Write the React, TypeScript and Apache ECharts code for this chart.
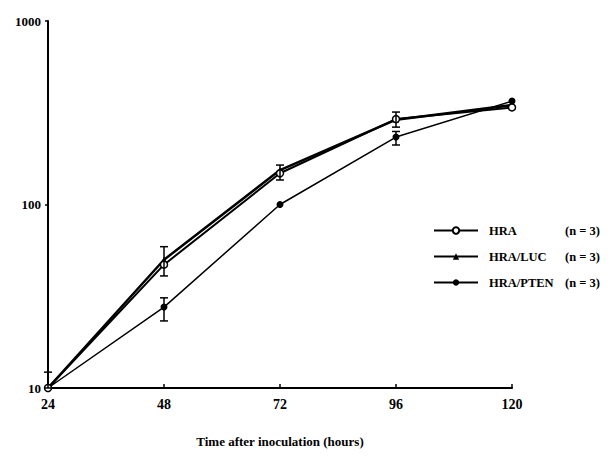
import React, { useEffect, useRef } from "react";
import * as echarts from "echarts";

const hours = [24, 48, 72, 96, 120];
const hraValues = [10, 47, 148, 292, 338];
const lucValues = [10, 50, 154, 290, 348];
const ptenValues = [10, 27.6, 100, 233, 366];
// error bars: [hour, low, high]
const hraErr = [[48, 40.8, 58.9], [72, 136, 164], [96, 264, 319]];
const lucErr = [[24, 10, 12.2]];
const ptenErr = [[48, 23.2, 31], [96, 211, 250]];
const yTicks = [10, 100, 1000];
const legendNote = "(n = 3)";

const FONT = "'Liberation Serif', 'DejaVu Serif', serif";

function errSeries(data: number[][], id: string) {
  return {
    type: "custom",
    name: id,
    silent: true,
    z: 5,
    data,
    renderItem: (_p: any, api: any) => {
      const x = api.value(0);
      const lo = api.coord([x, api.value(1)]);
      const hi = api.coord([x, api.value(2)]);
      const w = 4;
      return {
        type: "group",
        children: [
          { type: "line", shape: { x1: lo[0], y1: lo[1], x2: hi[0], y2: hi[1] }, style: { stroke: "#000", lineWidth: 1.5 } },
          { type: "line", shape: { x1: lo[0] - w, y1: lo[1], x2: lo[0] + w, y2: lo[1] }, style: { stroke: "#000", lineWidth: 1.5 } },
          { type: "line", shape: { x1: hi[0] - w, y1: hi[1], x2: hi[0] + w, y2: hi[1] }, style: { stroke: "#000", lineWidth: 1.5 } },
        ],
      };
    },
  };
}

export default function App() {
  const ref = useRef<HTMLDivElement>(null);
  useEffect(() => {
    if (!ref.current) return;
    const chart = echarts.init(ref.current, undefined, { renderer: "svg" });
    const pair = (vals: number[]) => hours.map((h, i) => [h, vals[i]]);
    chart.setOption({
      animation: false,
      backgroundColor: "#fff",
      grid: { left: 48, right: 102, top: 21, bottom: 78 },
      xAxis: {
        type: "value",
        min: 24,
        max: 120,
        interval: 24,
        name: "Time after inoculation (hours)",
        nameLocation: "middle",
        nameGap: 47,
        nameTextStyle: { fontFamily: FONT, fontWeight: "bold", fontSize: 13, color: "#000" },
        axisLine: { lineStyle: { color: "#000", width: 2 } },
        axisTick: { inside: true, length: 4, lineStyle: { color: "#000", width: 1.5 } },
        axisLabel: { fontFamily: FONT, fontWeight: "bold", fontSize: 14, color: "#000", margin: 9 },
        splitLine: { show: false },
      },
      yAxis: {
        type: "log",
        logBase: 10,
        min: yTicks[0],
        max: yTicks[yTicks.length - 1],
        axisLine: { show: true, lineStyle: { color: "#000", width: 2 } },
        axisTick: { show: true, length: 3, lineStyle: { color: "#000", width: 1.5 } },
        axisLabel: {
          fontFamily: FONT, fontWeight: "bold", fontSize: 13, color: "#000", margin: 7,
          formatter: (v: number) => String(Math.round(v)),
        },
        splitLine: { show: false },
      },
      legend: {
        orient: "vertical",
        left: 428,
        top: 219,
        itemWidth: 44,
        itemHeight: 8,
        itemGap: 13,
        data: ["HRA", "HRA/LUC", "HRA/PTEN"],
        formatter: (name: string) => `{a|${name}}{b|${legendNote}}`,
        textStyle: {
          rich: {
            a: { fontFamily: FONT, fontWeight: "bold", fontSize: 12.5, color: "#000", width: 76, padding: [0, 0, 0, 6] },
            b: { fontFamily: FONT, fontWeight: "bold", fontSize: 12.5, color: "#000" },
          },
        },
      },
      series: [
        {
          name: "HRA/PTEN",
          type: "line",
          data: pair(ptenValues),
          symbol: "circle",
          symbolSize: 7,
          itemStyle: { color: "#000" },
          lineStyle: { color: "#000", width: 1.5 },
          z: 3,
        },
        {
          name: "HRA/LUC",
          type: "line",
          data: pair(lucValues),
          symbol: "triangle",
          symbolSize: 6,
          itemStyle: { color: "#000" },
          lineStyle: { color: "#000", width: 2.5 },
          z: 3,
        },
        {
          name: "HRA",
          type: "line",
          data: pair(hraValues),
          symbol: "circle",
          symbolSize: 7,
          itemStyle: { color: "#fff", borderColor: "#000", borderWidth: 1.5 },
          lineStyle: { color: "#000", width: 2 },
          z: 4,
        },
        errSeries(hraErr, "errHRA"),
        errSeries(lucErr, "errLUC"),
        errSeries(ptenErr, "errPTEN"),
      ],
    });
    return () => chart.dispose();
  }, []);
  return <div ref={ref} style={{ position: "fixed", left: 0, top: 0, width: 614, height: 466 }} />;
}
